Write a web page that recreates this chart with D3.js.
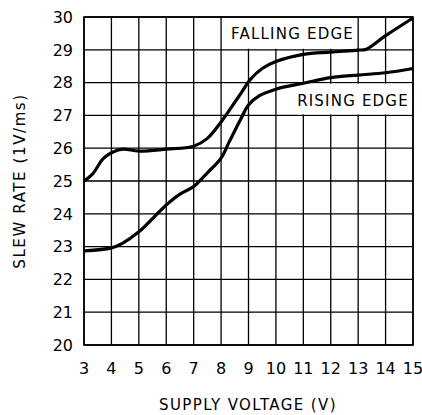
<!DOCTYPE html>
<html>
<head>
<meta charset="utf-8">
<script src="https://cdn.jsdelivr.net/npm/d3@7"></script>
<style>
  body { margin: 0; background: #fff; }
  text { font-family: "DejaVu Sans", sans-serif; fill: #000; }
</style>
</head>
<body>
<svg id="chart" width="422" height="415"></svg>
<script>
// supply voltage (V) vs slew rate (1V/ms)
const fallingX = [3, 3.3, 3.7, 4, 4.4, 5, 6, 7, 7.5, 8, 8.5, 8.8, 9.05, 9.5, 10, 11, 12, 13, 13.3, 14, 15];
const fallingY = [25.0, 25.2, 25.68, 25.86, 25.97, 25.91, 25.97, 26.06, 26.3, 26.8, 27.4, 27.77, 28.08, 28.43, 28.64, 28.86, 28.93, 28.99, 29.02, 29.43, 29.97];

const risingX = [3, 4, 4.4, 5, 6, 6.5, 7, 7.5, 8, 8.3, 8.7, 9, 9.4, 10, 11, 12, 13, 14, 15];
const risingY = [22.87, 22.96, 23.1, 23.45, 24.27, 24.6, 24.83, 25.25, 25.7, 26.2, 26.86, 27.32, 27.6, 27.8, 27.98, 28.15, 28.23, 28.3, 28.43];

const xTicks = [3, 4, 5, 6, 7, 8, 9, 10, 11, 12, 13, 14, 15];
const yTicks = [20, 21, 22, 23, 24, 25, 26, 27, 28, 29, 30];

const svg = d3.select('#chart');
const plotLeft = 84, plotRight = 413, plotTop = 17, plotBottom = 345;

const x = d3.scaleLinear().domain([3, 15]).range([plotLeft, plotRight]);
const y = d3.scaleLinear().domain([20, 30]).range([plotBottom, plotTop]);

// grid
svg.append('g').selectAll('line').data(xTicks).join('line')
    .attr('x1', d => x(d)).attr('x2', d => x(d))
    .attr('y1', plotTop).attr('y2', plotBottom)
    .attr('stroke', '#000').attr('stroke-width', 1.3);
svg.append('g').selectAll('line').data(yTicks).join('line')
    .attr('x1', plotLeft).attr('x2', plotRight)
    .attr('y1', d => y(d)).attr('y2', d => y(d))
    .attr('stroke', '#000').attr('stroke-width', 1.3);

// white boxes behind the curve labels
svg.append('rect')
    .attr('x', x(8.15)).attr('y', y(30) + 1)
    .attr('width', x(12.85) - x(8.15)).attr('height', y(29) - y(30) - 2)
    .attr('fill', '#fff');
svg.append('rect')
    .attr('x', x(10.8)).attr('y', y(28) + 1)
    .attr('width', x(15) - x(10.8) - 1).attr('height', y(27) - y(28) - 2)
    .attr('fill', '#fff');

// frame
svg.append('rect')
    .attr('x', plotLeft).attr('y', plotTop)
    .attr('width', plotRight - plotLeft).attr('height', plotBottom - plotTop)
    .attr('fill', 'none').attr('stroke', '#000').attr('stroke-width', 1.6);

// curves
const line = (xs, ys) => d3.line()
    .x((d, i) => x(xs[i]))
    .y(d => y(d))
    .curve(d3.curveCatmullRom.alpha(0.5))(ys);

svg.append('path').attr('d', line(fallingX, fallingY))
    .attr('fill', 'none').attr('stroke', '#000').attr('stroke-width', 3.2)
    .attr('stroke-linejoin', 'round');
svg.append('path').attr('d', line(risingX, risingY))
    .attr('fill', 'none').attr('stroke', '#000').attr('stroke-width', 3.2)
    .attr('stroke-linejoin', 'round');

// tick labels
svg.append('g').selectAll('text').data(yTicks).join('text')
    .attr('x', 73).attr('y', d => y(d))
    .attr('dy', '0.36em')
    .attr('text-anchor', 'end')
    .style('font-size', '16px')
    .text(d => d);
svg.append('g').selectAll('text').data(xTicks).join('text')
    .attr('x', d => x(d)).attr('y', 374)
    .attr('text-anchor', 'middle')
    .style('font-size', '16px')
    .text(d => d);

// curve labels
svg.append('text')
    .attr('x', 292.5).attr('y', 39)
    .attr('text-anchor', 'middle')
    .style('font-size', '15px').style('letter-spacing', '1.2px')
    .text('FALLING EDGE');
svg.append('text')
    .attr('x', 353).attr('y', 106)
    .attr('text-anchor', 'middle')
    .style('font-size', '15px').style('letter-spacing', '1.2px')
    .text('RISING EDGE');

// axis titles
svg.append('text')
    .attr('x', 248).attr('y', 410)
    .attr('text-anchor', 'middle')
    .style('font-size', '15px').style('letter-spacing', '1.4px')
    .text('SUPPLY VOLTAGE (V)');
svg.append('text')
    .attr('transform', 'translate(25,181) rotate(-90)')
    .attr('text-anchor', 'middle')
    .style('font-size', '15px').style('letter-spacing', '1.6px')
    .text('SLEW RATE (1V/ms)');
</script>
</body>
</html>
